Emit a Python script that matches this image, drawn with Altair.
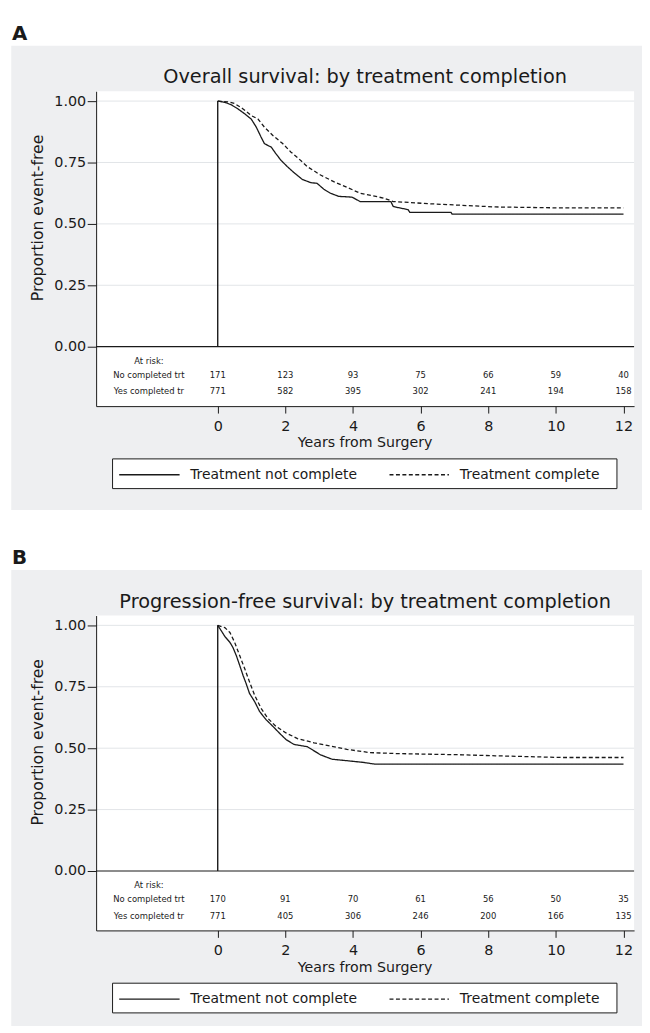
import altair as alt
import pandas as pd

FONT = "DejaVu Sans"
INK = "#1a1a1a"
PANEL_BG = "#eeeff1"
GRID = "#e2e5e8"

series_names = ["Treatment not complete", "Treatment complete"]
risk_rows = ["No completed trt", "Yes completed tr"]
x_ticks = [0, 2, 4, 6, 8, 10, 12]
y_ticks = [0.0, 0.25, 0.5, 0.75, 1.0]

# ---------- Panel A: overall survival ----------
os_not_t = [0, 0.21, 0.40, 0.60, 0.80, 0.99, 1.14, 1.28, 1.38, 1.50, 1.58, 1.72, 1.87, 2.06, 2.26, 2.50,
            2.75, 2.94, 3.14, 3.33, 3.58, 3.97, 4.21, 5.12, 5.19, 5.38, 5.63, 5.68, 6.90, 6.93, 12.0]
os_not_s = [1.0, 0.995, 0.985, 0.968, 0.948, 0.927, 0.894, 0.854, 0.827, 0.818, 0.813, 0.786, 0.759, 0.733,
            0.708, 0.681, 0.668, 0.665, 0.641, 0.625, 0.612, 0.609, 0.591, 0.591, 0.571, 0.565, 0.558,
            0.547, 0.547, 0.540, 0.540]
os_comp_t = [0, 0.31, 0.50, 0.75, 0.99, 1.19, 1.38, 1.63, 1.92, 2.16, 2.36, 2.65, 3.04, 3.43, 3.82, 4.21,
             4.60, 4.90, 5.19, 6.26, 8.21, 10.17, 12.0]
os_comp_s = [1.0, 0.997, 0.99, 0.968, 0.941, 0.927, 0.894, 0.86, 0.827, 0.793, 0.770, 0.733, 0.699, 0.672,
             0.649, 0.625, 0.614, 0.605, 0.591, 0.582, 0.569, 0.565, 0.565]
os_risk_not = [171, 123, 93, 75, 66, 59, 40]
os_risk_comp = [771, 582, 395, 302, 241, 194, 158]

# ---------- Panel B: progression-free survival ----------
pfs_not_t = [0, 0.11, 0.21, 0.36, 0.45, 0.55, 0.65, 0.75, 0.84, 0.94, 1.09, 1.24, 1.43, 1.63, 1.82, 2.02,
             2.26, 2.65, 2.85, 3.04, 3.38, 3.82, 4.31, 4.65, 12.0]
pfs_not_s = [1.0, 0.977, 0.955, 0.931, 0.910, 0.877, 0.837, 0.796, 0.763, 0.723, 0.690, 0.649, 0.616, 0.589,
             0.562, 0.535, 0.515, 0.506, 0.489, 0.473, 0.455, 0.449, 0.442, 0.435, 0.435]
pfs_comp_t = [0, 0.21, 0.36, 0.50, 0.65, 0.80, 0.94, 1.09, 1.28, 1.48, 1.72, 2.02, 2.36, 2.85, 3.33, 3.82,
              4.50, 5.29, 7.24, 8.21, 10.17, 12.0]
pfs_comp_s = [1.0, 0.991, 0.971, 0.931, 0.877, 0.823, 0.770, 0.716, 0.663, 0.622, 0.589, 0.562, 0.539, 0.522,
              0.509, 0.495, 0.482, 0.478, 0.473, 0.469, 0.462, 0.462]
pfs_risk_not = [170, 91, 70, 61, 56, 50, 35]
pfs_risk_comp = [771, 405, 306, 246, 200, 166, 135]

# ---------- layout constants (pixels, relative to plot area) ----------
W, H = 543.3, 318
SX = alt.Scale(domain=[-3.596, 12.313], nice=False, zero=False)
SY = alt.Scale(domain=[-0.242, 1.04], nice=False, zero=False)
AX = alt.Axis(values=x_ticks, title=None, grid=False, domainColor=INK, tickColor=INK, tickSize=7,
              labelPadding=6.5, labelFontSize=14.5, labelFont=FONT, labelColor=INK, domainWidth=1,
              tickWidth=1, zindex=1, labelFlush=False)
AY = alt.Axis(values=y_ticks, format=".2f", title=None, grid=False, domainColor=INK, tickColor=INK,
              tickSize=9, labelPadding=1.5, labelFontSize=14.5, labelFont=FONT, labelColor=INK,
              domainWidth=1, tickWidth=1, zindex=1)


def X(field):
    return alt.X(field, type="quantitative", scale=SX, axis=AX)


def Y(field):
    return alt.Y(field, type="quantitative", scale=SY, axis=AY)


def one():
    return pd.DataFrame({"k": [0]})


def txt(text, x, y, size, weight="normal", align="center", baseline="middle", angle=0):
    return alt.Chart(pd.DataFrame({"label": [text]})).mark_text(
        font=FONT, fontSize=size, fontWeight=weight, align=align, baseline=baseline,
        angle=angle, color=INK
    ).encode(x=alt.value(x), y=alt.value(y), text="label:N")


def panel(letter, title, nt, ns, ct, cs, rnot, rcomp, gray_bottom):
    gray = alt.Chart(one()).mark_rect(fill=PANEL_BG).encode(
        x=alt.value(-85.7), x2=alt.value(551.3), y=alt.value(-46), y2=alt.value(gray_bottom))
    white = alt.Chart(one()).mark_rect(fill="white").encode(
        x=alt.value(0), x2=alt.value(W), y=alt.value(0), y2=alt.value(H))
    grid = alt.Chart(pd.DataFrame({"v": y_ticks[1:]})).mark_rule(color=GRID, strokeWidth=1).encode(
        y=Y("v"), x=alt.value(0), x2=alt.value(W))
    zero = alt.Chart(pd.DataFrame({"v": [0.0]})).mark_rule(color=INK, strokeWidth=1.2).encode(
        y=Y("v"), x=alt.value(0), x2=alt.value(W))
    vline = alt.Chart(pd.DataFrame({"t": [0.0], "lo": [0.0], "hi": [1.0]})).mark_rule(
        color=INK, strokeWidth=1.4).encode(x=X("t"), y=Y("lo"), y2="hi")
    curves_df = pd.concat([
        pd.DataFrame({"t": nt, "S": ns, "grp": series_names[0]}),
        pd.DataFrame({"t": ct, "S": cs, "grp": series_names[1]}),
    ])
    curves = alt.Chart(curves_df).mark_line(color=INK, strokeWidth=1.3).encode(
        x=X("t"), y=Y("S"),
        strokeDash=alt.StrokeDash("grp:N", scale=alt.Scale(domain=series_names, range=[[1, 0], [4, 2.5]]),
                                  legend=None),
        detail="grp:N")
    risk1 = alt.Chart(pd.DataFrame({"t": x_ticks, "n": rnot})).mark_text(
        font=FONT, fontSize=8.5, color=INK, baseline="middle").encode(
        x=X("t"), y=alt.value(286.7), text="n:N")
    risk2 = alt.Chart(pd.DataFrame({"t": x_ticks, "n": rcomp})).mark_text(
        font=FONT, fontSize=8.5, color=INK, baseline="middle").encode(
        x=X("t"), y=alt.value(303), text="n:N")
    texts = [
        txt("At risk:", 53.3, 272, 8.5),
        txt(risk_rows[0], 53.3, 286.7, 8.5),
        txt(risk_rows[1], 53.3, 303, 8.5),
        txt(title, W / 2, -8, 19.5, baseline="alphabetic"),
        txt(letter, -85, -52, 20, weight="bold", align="left", baseline="alphabetic"),
        txt("Proportion event-free", -58.2, 128, 15.8, angle=270),
        txt("Years from Surgery", W / 2, 359.7, 14.3, baseline="alphabetic"),
    ]
    leg_box = alt.Chart(one()).mark_rect(fill="white", stroke=INK, strokeWidth=1).encode(
        x=alt.value(16.6), x2=alt.value(526), y=alt.value(371.3), y2=alt.value(401.3))
    leg_l1 = alt.Chart(one()).mark_rule(color=INK, strokeWidth=1.3).encode(
        x=alt.value(23.3), x2=alt.value(84.3), y=alt.value(387.3))
    leg_l2 = alt.Chart(one()).mark_rule(color=INK, strokeWidth=1.3, strokeDash=[4, 2.5]).encode(
        x=alt.value(296.3), x2=alt.value(356.3), y=alt.value(387.3))
    leg_t1 = txt(series_names[0], 95, 387.3, 14, align="left")
    leg_t2 = txt(series_names[1], 367.3, 387.3, 14, align="left")
    return alt.layer(gray, white, grid, zero, vline, curves, risk1, risk2, *texts,
                     leg_box, leg_l1, leg_l2, leg_t1, leg_t2).properties(width=W, height=H)


pA = panel("A", "Overall survival: by treatment completion", os_not_t, os_not_s, os_comp_t, os_comp_s,
           os_risk_not, os_risk_comp, 423)
pB = panel("B", "Progression-free survival: by treatment completion", pfs_not_t, pfs_not_s, pfs_comp_t,
           pfs_comp_s, pfs_risk_not, pfs_risk_comp, 414.5)

chart = alt.vconcat(pA, pB, spacing=38.5).properties(
    padding={"left": 3, "top": 11, "right": 0, "bottom": 0},
    background="white",
).configure_view(stroke=None)

chart.save("out.html", embed_options={"renderer": "svg", "actions": False})
